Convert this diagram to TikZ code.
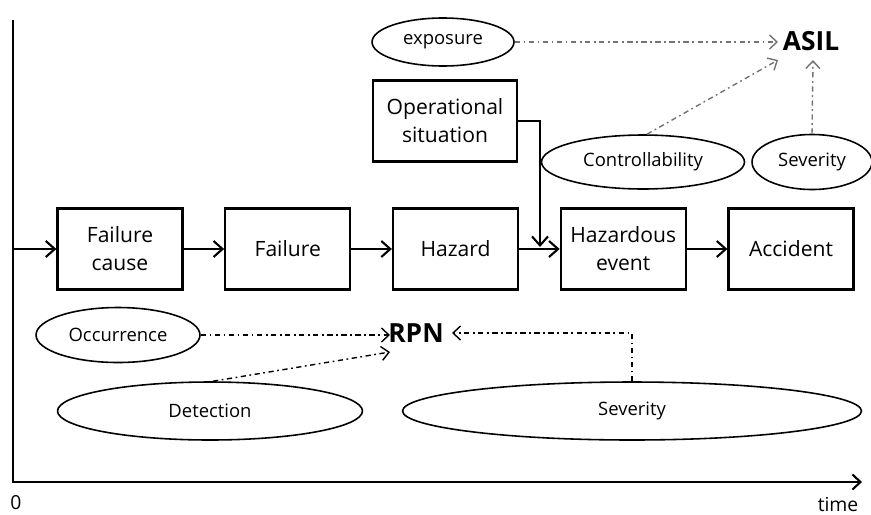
\documentclass[tikz,border=0pt]{standalone}
\usepackage{fontspec}
\setmainfont{Open Sans}
\usetikzlibrary{shapes.geometric, arrows.meta, positioning}

\begin{document}
\begin{tikzpicture}[
    x=0.02cm, y=-0.02cm,
    block/.style={rectangle, draw, line width=1.3pt, minimum width=2.5cm, minimum height=1.62cm, align=center, font=\fontsize{12}{16}\selectfont},
    oval/.style={ellipse, draw, line width=0.9pt, inner sep=0pt, font=\fontsize{10.5}{12}\selectfont},
    score/.style={font=\fontsize{15}{16}\selectfont\bfseries},
    arrow/.style={-{Straight Barb[length=1.8mm, width=3.2mm]}, line width=1.2pt},
    axis/.style={-{Straight Barb[length=1.6mm, width=3mm]}, line width=1.2pt},
    rpnarrow/.style={-{Straight Barb[length=1.5mm, width=2.8mm]}, line width=0.8pt, dash pattern=on 3pt off 2pt on 1pt off 2pt},
    asilarrow/.style={rpnarrow, draw=black!55}
]
    \useasboundingbox (0,0) rectangle (871,514);

    % time axis
    \coordinate (ytop) at (13,20);
    \coordinate (origin) at (13,482);
    \coordinate (tend) at (862,482);
    \draw[axis] (ytop) -- (origin) -- (tend);
    \node (zero) at (16,503) {\fontsize{11}{12}\selectfont 0};
    \node (time) at (838,504) {\fontsize{11}{12}\selectfont time};

    % chain of events
    \node[block] (cause) at (120,249) {Failure\\cause};
    \node[block, right=0.81cm of cause] (failure) {Failure};
    \node[block, right=0.81cm of failure] (hazard) {Hazard};
    \node[block, right=0.81cm of hazard] (event) {Hazardous\\event};
    \node[block, right=0.81cm of event] (accident) {Accident};
    \node[block, minimum width=2.88cm] (situation) at (445,121) {Operational\\situation};

    \coordinate (start) at (13,249);
    \coordinate (join) at (540,247);
    \draw[arrow] (start) -- (cause);
    \draw[arrow] (cause) -- (failure);
    \draw[arrow] (failure) -- (hazard);
    \draw[arrow] (hazard) -- (event);
    \draw[arrow] (event) -- (accident);
    \draw[arrow] (situation.east) -| (join);

    % ASIL
    \node[score] (asil) at (811,41) {ASIL};
    \node[oval, minimum width=2.84cm, minimum height=0.96cm] (exposure) at (443,42) {exposure};
    \node[oval, minimum width=4.06cm, minimum height=1.08cm] (control) at (643,162) {Controllability};
    \node[oval, minimum width=2.4cm, minimum height=1.1cm] (sevtop) at (812,162) {Severity};

    \coordinate (asilw) at (778,42);
    \coordinate (asilsw) at (778,60);
    \coordinate (asils) at (813,60);
    \draw[asilarrow] (exposure) -- (asilw);
    \draw[asilarrow] (control.north) ++(4,0) coordinate (ctop) -- (asilsw);
    \draw[asilarrow] (sevtop.north) -- (asils);

    % RPN
    \node[score] (rpn) at (416,333) {RPN};
    \node[oval, minimum width=3.28cm, minimum height=1.1cm] (occur) at (118,335) {Occurrence};
    \node[oval, minimum width=6.1cm, minimum height=1.16cm] (detect) at (210,411) {Detection};
    \node[oval, minimum width=9.18cm, minimum height=1.16cm] (sevbot) at (632,411) {Severity};

    \coordinate (rpnw) at (390,335);
    \coordinate (rpnsw) at (390,352);
    \coordinate (rpne) at (452,333);
    \draw[rpnarrow] (occur) -- (rpnw);
    \draw[rpnarrow] (detect.north) ++(3,0) -- (rpnsw);
    \draw[rpnarrow] (sevbot.north) |- (rpne);
\end{tikzpicture}
\end{document}
